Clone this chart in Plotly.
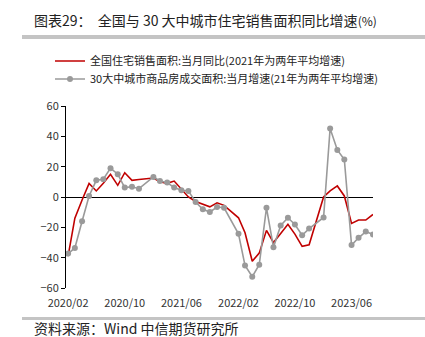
import plotly.graph_objects as go

# ---- data ----
months_red = ["2020-02","2020-03","2020-04","2020-05","2020-06","2020-07","2020-08","2020-09",
              "2020-10","2020-11","2020-12","2021-02","2021-03","2021-04","2021-05","2021-06",
              "2021-07","2021-08","2021-09","2021-10","2021-11","2021-12","2022-02","2022-03",
              "2022-04","2022-05","2022-06","2022-07","2022-08","2022-09","2022-10","2022-11",
              "2022-12","2023-02","2023-03","2023-04","2023-05","2023-06","2023-07","2023-08",
              "2023-09"]
national = [-39, -14, -2, 9, 4, 9, 15, 7.7,
            16, 11, 11.5, 12.5, 10, 9, 10.5, 5,
            0, -3, -5, -6.5, -3.8, -5.5, -13.7, -23.6,
            -42.4, -37, -22, -30, -24, -18, -24.5, -32.5,
            -31.5, 0, 4, 7.3, 0.7, -17.4, -15.2, -15.2,
            -11.5]
months_gray = months_red
city30 = [-37.3, -33.6, -16, 0.7, 11, 11.7, 19, 15,
          6.2, 6.8, 5.5, 13.2, 10.6, 9.5, 6.2, 4.4,
          4, -3.3, -8.1, -9.9, -6.6, -7.1, -24.3, -45.2,
          -52.5, -44.6, -7.1, -33.1, -18.8, -13.7, -18.1, -25.2,
          -20.8, -13.5, 45.2, 31, 24.7, -31.7, -26.9, -22.8,
          -24.7]
tick_months = ["2020-02", "2020-10", "2021-06", "2022-02", "2022-10", "2023-06"]
tick_labels = ["2020/02", "2020/10", "2021/06", "2022/02", "2022/10", "2023/06"]
y_ticks = [60, 40, 20, 0, -20, -40, -60]

name_red = "全国住宅销售面积:当月同比(2021年为两年平均增速)"
name_gray = "30大中城市商品房成交面积:当月增速(21年为两年平均增速)"
title_main = "图表29：  全国与 30 大中城市住宅销售面积同比增速"
title_unit = "(%)"
source_text = "资料来源：Wind 中信期货研究所"

FONT = "Noto Sans CJK SC"

fig = go.Figure()
fig.add_trace(go.Scatter(
    x=[m + "-01" for m in months_red], y=national, name=name_red, mode="lines",
    line=dict(color="#c00000", width=1.6), legend="legend"))
fig.add_trace(go.Scatter(
    x=[m + "-01" for m in months_gray], y=city30, name=name_gray, mode="lines+markers",
    line=dict(color="#9a9a9a", width=1.6), marker=dict(color="#9a9a9a", size=6),
    legend="legend2"))

W, H = 425, 337
L, R, T, B = 66, 52, 106, 49
pw, ph = W - L - R, H - T - B

def px_x(x):
    return (x - L) / pw

def px_y(y):
    return (H - B - y) / ph

leg_common = dict(xanchor="left", yanchor="middle",
                  font=dict(family=FONT, size=11, color="#222222"),
                  itemwidth=30, bgcolor="rgba(0,0,0,0)")

fig.update_layout(
    width=W, height=H,
    margin=dict(l=L, r=R, t=T, b=B),
    paper_bgcolor="white", plot_bgcolor="white",
    font=dict(family=FONT, size=11, color="#333333"),
    showlegend=True,
    legend=dict(x=px_x(50), y=px_y(61), **leg_common),
    legend2=dict(x=px_x(50), y=px_y(79), **leg_common),
    xaxis=dict(type="date", range=["2020-01-23", "2023-09-01"],
               tickvals=[m + "-01" for m in tick_months], ticktext=tick_labels,
               showgrid=False, showline=False, zeroline=False, ticks="",
               ticklabelstandoff=7,
               tickfont=dict(family=FONT, size=11, color="#333333")),
    yaxis=dict(range=[-60, 60], tickvals=y_ticks, showgrid=False,
               showline=True, linecolor="black", linewidth=1,
               ticks="outside", ticklen=4, tickcolor="black",
               zeroline=True, zerolinecolor="black", zerolinewidth=1,
               tickfont=dict(family=FONT, size=11, color="#333333")),
    annotations=[
        dict(text=title_main + "<span style='font-size:12px'>" + title_unit + "</span>",
             xref="paper", yref="paper", x=px_x(32), y=px_y(20),
             xanchor="left", yanchor="middle", showarrow=False,
             font=dict(family=FONT, size=14, color="#222222")),
        dict(text=source_text, xref="paper", yref="paper", x=px_x(32), y=px_y(328),
             xanchor="left", yanchor="middle", showarrow=False,
             font=dict(family=FONT, size=14, color="#222222")),
    ],
    shapes=[
        dict(type="line", xref="paper", yref="paper", x0=px_x(22), x1=px_x(425),
             y0=px_y(37), y1=px_y(37), line=dict(color="#c4c4c4", width=4)),
        dict(type="line", xref="paper", yref="paper", x0=px_x(22), x1=px_x(425),
             y0=px_y(318.5), y1=px_y(318.5), line=dict(color="#c4c4c4", width=3)),
    ],
)

fig.write_html("out.html")
